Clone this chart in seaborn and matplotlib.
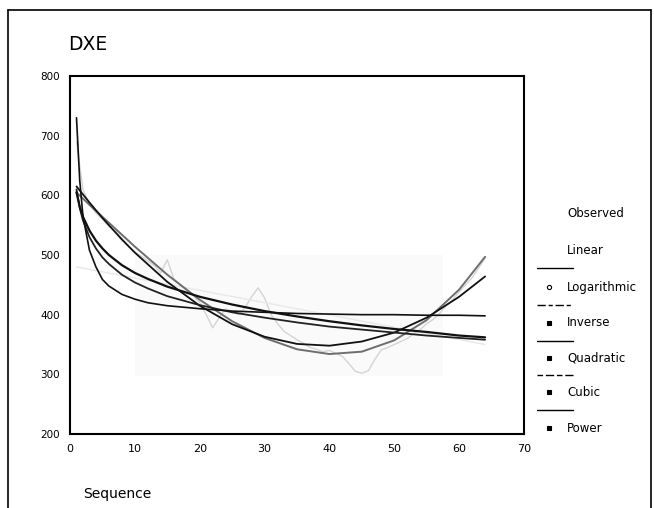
import matplotlib
matplotlib.use("Agg")
import matplotlib.pyplot as plt
import seaborn as sns
from matplotlib.lines import Line2D
from matplotlib.patches import Rectangle

# ---------------- data ----------------
sequence = list(range(1, 65))
observed = [690, 610, 585, 570, 560, 548, 540, 528, 515, 505,
            498, 490, 482, 470, 492, 460, 450, 440, 432, 420,
            400, 378, 395, 410, 405, 400, 412, 430, 445, 428,
            400, 385, 372, 365, 358, 352, 345, 342, 338, 340,
            335, 330, 318, 305, 302, 306, 325, 341, 345, 350,
            355, 360, 368, 375, 385, 392, 402, 415, 425, 438,
            450, 462, 478, 495]

x_curve = [1, 1.5, 2, 3, 4, 5, 6, 8, 10, 12, 15, 20, 25, 30, 35, 40, 45, 50, 55, 60, 64]
inverse = [730, 625, 565, 508, 480, 459, 448, 434, 426, 420, 415, 410, 406, 404,
           402, 401, 400, 400, 399, 399, 398]
logarithmic = [605, 581, 564, 541, 524, 511, 500, 483, 470, 460, 447, 430, 417, 406,
               397, 389, 382, 376, 371, 365, 362]
power = [610, 579, 558, 530, 511, 496, 485, 467, 454, 444, 431, 416, 404, 395,
         387, 380, 375, 370, 365, 361, 358]

x_poly = [1, 3, 5, 8, 10, 15, 20, 25, 30, 35, 40, 45, 50, 55, 60, 64]
quadratic = [615, 588, 562, 526, 504, 455, 415, 384, 363, 351, 348, 355, 370, 395, 430, 464]
cubic = [605, 584, 564, 534, 514, 467, 425, 389, 361, 342, 334, 338, 357, 391, 442, 497]

x_linear = [1, 64]
linear = [480, 350]

legend_labels = ["Observed", "Linear", "Logarithmic", "Inverse", "Quadratic", "Cubic", "Power"]
x_ticks = [0, 10, 20, 30, 40, 50, 60, 70]
y_ticks = [200, 300, 400, 500, 600, 700, 800]

# ---------------- style ----------------
sns.set_style("white")
plt.rcParams['font.family'] = ['DejaVu Sans']
plt.rcParams['text.color'] = 'black'

W, H = 654, 508
fig = plt.figure(figsize=(W / 100, H / 100), dpi=100)
ax = fig.add_axes([70 / W, 1 - 434 / H, (524 - 70) / W, (434 - 76) / H])

# faint scan background patch
ax.add_patch(Rectangle((10, 297), 47.5, 203, facecolor='#fafafa', edgecolor='none', zorder=0))

sns.lineplot(x=sequence, y=observed, ax=ax, color='#d4d4d4', lw=1.0, estimator=None, zorder=1)
sns.lineplot(x=x_linear, y=linear, ax=ax, color='#e8e8e8', lw=1.0, estimator=None, zorder=1)
sns.lineplot(x=x_poly, y=cubic, ax=ax, color='#6e6e6e', lw=1.4, estimator=None, zorder=2)
sns.lineplot(x=x_poly, y=quadratic, ax=ax, color='#111111', lw=1.3, estimator=None, zorder=3)
sns.lineplot(x=x_curve, y=power, ax=ax, color='#222222', lw=1.3, estimator=None, zorder=3)
sns.lineplot(x=x_curve, y=logarithmic, ax=ax, color='#111111', lw=1.6, estimator=None, zorder=3)
sns.lineplot(x=x_curve, y=inverse, ax=ax, color='#111111', lw=1.2, estimator=None, zorder=3)

ax.set_xlim(0, 70)
ax.set_ylim(200, 800)
ax.set_xticks(x_ticks)
ax.set_yticks(y_ticks)
ax.set_xlabel('')
ax.set_ylabel('')
for s in ax.spines.values():
    s.set_color('black')
    s.set_linewidth(1.5)
ax.tick_params(axis='both', direction='inout', length=5, width=3, colors='black',
               labelcolor='black', labelsize=8)
ax.tick_params(axis='x', pad=5)
ax.tick_params(axis='y', pad=5, labelsize=7.5)

# title and axis caption
fig.text(68 / W, 1 - 45 / H, "DXE", fontsize=13.5, ha='left', va='center', color='black')
fig.text(83 / W, 1 - 494 / H, "Sequence", fontsize=10, ha='left', va='center', color='black')

# legend (as laid out in the scan)
label_y = [214, 250, 287, 323, 358, 392, 428]
for lab, yy in zip(legend_labels, label_y):
    fig.text(567 / W, 1 - yy / H, lab, fontsize=8.5, ha='left', va='center', color='black')
sample_y = [268, 305, 341, 375, 410]
sample_ls = ['-', (0, (6, 2, 3, 2)), '-', (0, (4, 2, 6, 2)), '-']
for yy, ls in zip(sample_y, sample_ls):
    fig.add_artist(Line2D([537 / W, 573 / W], [1 - yy / H, 1 - yy / H],
                          color='black', lw=1.0, linestyle=ls, transform=fig.transFigure))
for i, yy in enumerate(label_y[2:]):
    fig.add_artist(Line2D([549 / W], [1 - yy / H], marker='o' if i == 0 else 's',
                          markersize=3, markerfacecolor='white' if i == 0 else 'black',
                          markeredgecolor='black', markeredgewidth=0.8,
                          linestyle='none', transform=fig.transFigure))

# outer frame of the scanned page
for xs, ys in [([8, 8], [10, 508]), ([8, 651], [10, 10]), ([651, 651], [10, 508])]:
    fig.add_artist(Line2D([x / W for x in xs], [1 - y / H for y in ys],
                          color='black', lw=1.2, transform=fig.transFigure))

fig.savefig("out.png", dpi=100)
